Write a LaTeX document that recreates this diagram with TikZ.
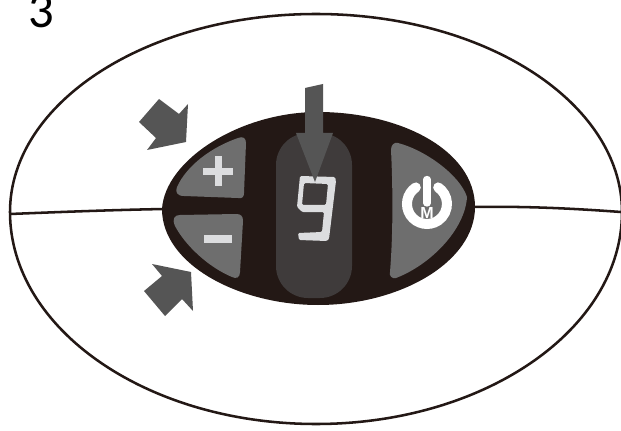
\documentclass[tikz,border=0pt]{standalone}
\usepackage{fontspec}
\setmainfont{Carlito}
\newfontfamily\labelfont{Liberation Sans}
\definecolor{bodydark}{HTML}{231815}
\definecolor{btn}{HTML}{6E6E6E}
\definecolor{pill}{HTML}{3F3B3B}
\definecolor{arrowgrey}{HTML}{555555}
\definecolor{seg}{HTML}{DCDDDF}
\tikzset{
  x=0.75pt,y=-0.75pt,
  outline/.style={draw=bodydark,line width=1.9pt},
  button/.style={fill=btn},
  marker/.style={fill=arrowgrey},
  glyph/.style={fill=seg},
}
\begin{document}
\begin{tikzpicture}
\useasboundingbox (0,0) rectangle (621,431);
\path[fill=white] (0,0) rectangle (621,431);
\node[anchor=base,font=\fontsize{38}{38}\selectfont,inner sep=0pt] (num) at (41,28) {3};
% outer body: egg shape, widest at y=212
\draw[outline] (10,212) arc[start angle=180,end angle=360,x radius=306,y radius=198]
  arc[start angle=0,end angle=180,x radius=306,y radius=212] -- cycle;
\coordinate (la) at (10,214);
\coordinate (lb) at (164,209);
\coordinate (ra) at (473,207);
\coordinate (rb) at (621,212);
\draw[outline] (la) .. controls (60,212) and (110,210) .. (lb);
\draw[outline] (ra) .. controls (530,206) and (580,209) .. (rb);
% dark panel
\fill[bodydark] (162,209) .. controls (165,160) and (240,112) .. (318,112)
  .. controls (400,112) and (475,150) .. (475,207)
  .. controls (475,262) and (400,305) .. (318,305)
  .. controls (240,305) and (162,265) .. (162,209) -- cycle;
% buttons
\fill[button] (238,138) .. controls (243,136) and (246,138) .. (246,143) -- (244,193)
  .. controls (244,197) and (242,199) .. (238,198) -- (184,196)
  .. controls (177,196) and (175,192) .. (177,187)
  .. controls (187,165) and (212,147) .. (238,138) -- cycle;
\fill[button] (180,215) -- (236,214) .. controls (241,214) and (243,216) .. (243,221)
  -- (240,272) .. controls (240,278) and (236,279) .. (232,277)
  .. controls (208,267) and (185,245) .. (175,226)
  .. controls (172,219) and (174,215) .. (180,215) -- cycle;
\fill[button] (398,143) .. controls (425,150) and (460,175) .. (467,197)
  .. controls (465,230) and (430,265) .. (396,278)
  .. controls (392,279) and (389,276) .. (390,272)
  .. controls (393,235) and (393,190) .. (391,150)
  .. controls (391,145) and (394,142) .. (398,143) -- cycle;
% centre pill
\fill[pill,rounded corners=24pt] (276,133) rectangle (352,298);
% plus / minus
\fill[glyph] (203,168) rectangle (233,175);
\fill[glyph] (214.5,156) rectangle (221.5,186);
\fill[glyph] (204,235) rectangle (232,243);
% digit
\fill[glyph,even odd rule,rounded corners=1pt]
  (300,176) -- (335,177) -- (336,181) -- (329,239) -- (327,241) -- (299,240) -- (298,233)
  -- (322,232) -- (324,212) -- (302,212) -- (297,207) -- cycle
  (304,183) -- (302,205) -- (326,205) -- (328,184) -- cycle;
% power
\draw[white,line width=7.5pt,line cap=round] (415.8,187.4) arc[start angle=236,end angle=-56,radius=20];
\draw[white,line width=5.5pt,line cap=round] (427,179.5) -- (427,203);
\node[font=\labelfont\bfseries\fontsize{12}{12}\selectfont,text=white,inner sep=0pt] (modeM) at (427,213) {M};
% arrows
\fill[marker] (305,88) -- (323,84) -- (323,133) -- (333,133) -- (315,182) -- (296,133) -- (305,133) -- cycle;
\fill[marker] (159,99) -- (179,114) -- (188,104) -- (186,142) -- (147,150) -- (156,138) -- (139,122) -- cycle;
\fill[marker] (152,264) -- (191,272) -- (193,311) -- (182,299) -- (165,316) -- (144,291) -- (162,276) -- cycle;
\end{tikzpicture}
\end{document}
